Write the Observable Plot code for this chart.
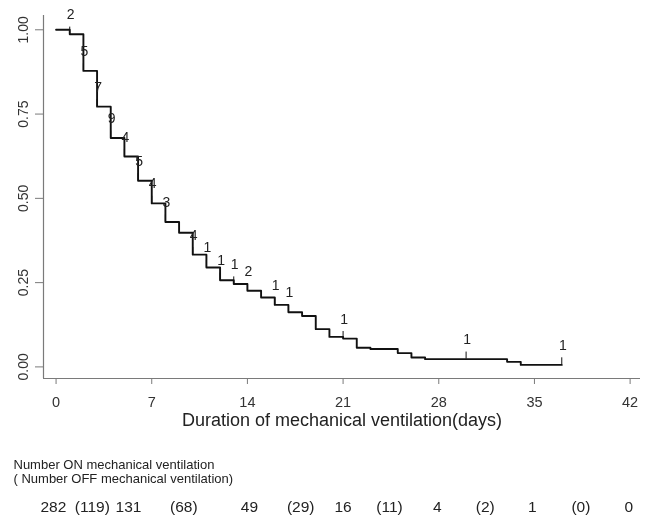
<!DOCTYPE html>
<html>
<head>
<meta charset="utf-8">
<script src="https://cdn.jsdelivr.net/npm/d3@7"></script>
<script src="https://cdn.jsdelivr.net/npm/@observablehq/plot@0.6"></script>
<style>
  body { margin: 0; background: #fff; }
  #chart svg { display: block; will-change: transform; }
</style>
</head>
<body>
<div id="chart"></div>
<script>
// Kaplan–Meier step curve (day, proportion still on mechanical ventilation)
const days = [0, 1, 2, 3, 4, 5, 6, 7, 8, 9, 10, 11, 12, 13, 14, 15, 16, 17, 18, 19, 20, 21, 22, 23, 25, 26, 27, 33, 34, 37];
const surv = [1.000, 0.987, 0.878, 0.772, 0.679, 0.624, 0.552, 0.485, 0.430, 0.398, 0.333, 0.295, 0.257, 0.246, 0.226, 0.206, 0.184, 0.162, 0.151, 0.112, 0.089, 0.084, 0.057, 0.053, 0.041, 0.028, 0.023, 0.015, 0.006, 0.006];

// Censoring times and number censored
const censorDays = [1, 2, 3, 4, 5, 6, 7, 8, 10, 11, 12, 13, 14, 16, 17, 21, 30, 37];
const censorCounts = [2, 5, 7, 9, 4, 5, 4, 3, 4, 1, 1, 1, 2, 1, 1, 1, 1, 1];

// Axis ticks
const xTicks = [0, 7, 14, 21, 28, 35, 42];
const yTicks = [0, 0.25, 0.5, 0.75, 1];

// Number-at-risk table
const riskLabels = ["282", "(119)", "131", "(68)", "49", "(29)", "16", "(11)", "4", "(2)", "1", "(0)", "0"];
const riskAt = [-0.2, 2.65, 5.3, 9.35, 14.15, 17.9, 21.0, 24.4, 27.9, 31.4, 34.85, 38.4, 41.9];

const xLabel = "Duration of mechanical ventilation(days)";
const headerOn = "Number ON mechanical ventilation";
const headerOff = "( Number OFF mechanical ventilation)";

const curve = days.map((t, i) => ({t, s: surv[i]}));
const stepAt = t => { let v = surv[0]; days.forEach((d, i) => { if (d <= t) v = surv[i]; }); return v; };
const censor = censorDays.map((t, i) => ({t, n: censorCounts[i], s: stepAt(t)}));
const risk = riskAt.map((t, i) => ({t, label: riskLabels[i]}));

const xDomain = [-0.92, 42.76];
const yDomain = [-0.0344, 1.0424];
const axisGray = "#7a7a7a";
const textCol = "#333";

const chart = Plot.plot({
  width: 649,
  height: 521,
  marginLeft: 43,
  marginRight: 9,
  marginTop: 15,
  marginBottom: 143,
  style: {fontFamily: "'Liberation Sans', Arial, Helvetica, sans-serif", fontSize: "15px", color: textCol, background: "#fff"},
  x: {domain: xDomain},
  y: {domain: yDomain},
  marks: [
    Plot.ruleY([yDomain[0]], {stroke: axisGray, strokeWidth: 1.2}),
    Plot.ruleX([xDomain[0]], {stroke: axisGray, strokeWidth: 1.2}),
    Plot.axisX({ticks: xTicks, tickSize: 6, tickPadding: 12, stroke: axisGray, fill: textCol, label: null, fontSize: 14.5}),
    Plot.axisY({ticks: yTicks, tickFormat: d3.format(".2f"), tickRotate: -90, tickSize: 8, tickPadding: 8, stroke: axisGray, fill: textCol, label: null, fontSize: 14}),
    Plot.line(curve, {x: "t", y: "s", curve: "step-after", stroke: "#111", strokeWidth: 1.9}),
    Plot.ruleX(censor, {x: "t", y1: "s", y2: d => d.s + 0.021, stroke: "#111", strokeWidth: 1}),
    Plot.text(censor, {x: "t", y: "s", text: d => String(d.n), dy: -19.5, dx: 1, fontSize: 14, fill: "#222"}),
    Plot.text([xLabel], {frameAnchor: "bottom", text: d => d, dy: 47.4, fontSize: 18, fill: "#222"}),
    Plot.text([headerOn], {frameAnchor: "bottom-left", text: d => d, textAnchor: "start", dx: -30, dy: 90.7, fontSize: 13, fill: "#222"}),
    Plot.text([headerOff], {frameAnchor: "bottom-left", text: d => d, textAnchor: "start", dx: -30, dy: 104.7, fontSize: 13, fill: "#222"}),
    Plot.text(risk, {x: "t", frameAnchor: "bottom", text: "label", dy: 133, fontSize: 15.5, fill: "#222"})
  ]
});
document.getElementById("chart").append(chart);
</script>
</body>
</html>
